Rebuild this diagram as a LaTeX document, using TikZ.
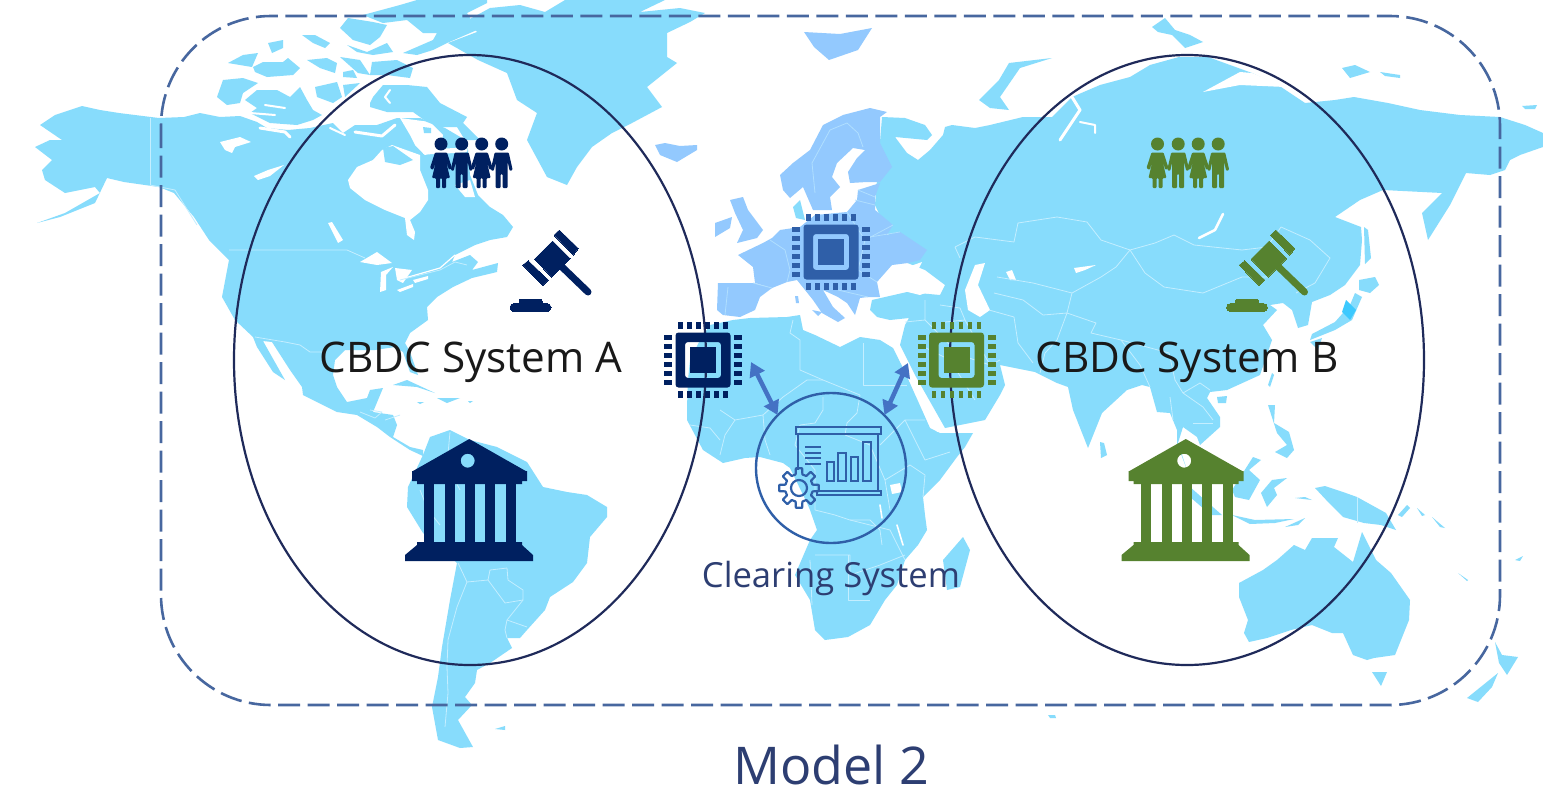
\documentclass[tikz,border=0pt]{standalone}
\usepackage{fontspec}
\setmainfont{Open Sans}
\usetikzlibrary{arrows.meta}
\definecolor{landc}{HTML}{87DCFC}
\definecolor{euroc}{HTML}{93C9FE}
\definecolor{navyc}{HTML}{002060}
\definecolor{greenc}{HTML}{56822F}
\definecolor{chipc}{HTML}{2F5FA8}
\definecolor{ringc}{HTML}{1F2A5A}
\definecolor{dashc}{HTML}{47679F}
\definecolor{arrowc}{HTML}{4472C4}
\definecolor{iconc}{HTML}{2F5FA8}
\definecolor{labelc}{HTML}{2D3E72}
\definecolor{bordc}{HTML}{C4EEFF}
\tikzset{
  land/.style={fill=landc,line join=round},
  euro/.style={fill=euroc,line join=round},
  sea/.style={fill=white,line join=round},
  chan/.style={draw=white,line width=2pt,line cap=round,line join=round},
  bord/.style={draw=bordc,line width=0.8pt,line join=round},
  ebord/.style={draw=bordc!60!euroc,line width=0.8pt,line join=round},
  systemring/.style={draw=ringc,line width=2.2pt},
  chipicon/.pic={
    \fill[pic actions,rounded corners=3pt,even odd rule] (-27.5,-27.5) rectangle (27.5,27.5) (-18,-18) rectangle (18,18);
    \fill[pic actions] (-13,-13) rectangle (13,13);
    \foreach \p in {-22.5,-13.5,-4.5,4.5,13.5,22.5}{
      \fill[pic actions] (\p-2.4,-38) rectangle (\p+2.4,-31);
      \fill[pic actions] (\p-2.4,31) rectangle (\p+2.4,38);
      \fill[pic actions] (-39,\p-2.2) rectangle (-31,\p+2.2);
      \fill[pic actions] (31,\p-2.2) rectangle (39,\p+2.2);
    }
  },
  gavelicon/.pic={
    \fill[pic actions] (554,235)--(559.3,230)--(578.3,248.3)--(573.3,255)--cycle;
    \fill[pic actions] (534.5,259)--(552.5,241)--(570,258.5)--(551.5,277)--cycle;
    \fill[pic actions] (522.7,265)--(528.3,260.7)--(548.3,280)--(542.7,285.7)--cycle;
    \draw[pic actions,line width=7pt,line cap=round] (560,265)--(588,292);
    \fill[pic actions,rounded corners=4pt] (510,303.5) rectangle (551,311.5);
    \fill[pic actions,rounded corners=2pt] (519,299) rectangle (542,306);
  },
  manicon/.pic={
    \fill[pic actions] (0,144) circle (6.5);
    \fill[pic actions,rounded corners=1pt] (-7,152.5)--(7,152.5)--(11,170)--(8,171)--(6,162)--(6,188)--(1,188)--(1,174)--(-1,174)--(-1,188)--(-6,188)--(-6,162)--(-8,171)--(-11,170)--cycle;
  },
  womanicon/.pic={
    \fill[pic actions] (0,144) circle (6.5);
    \fill[pic actions,rounded corners=1pt] (-6,152.5)--(6,152.5)--(11,168)--(8,170)--(5,161)--(9,178)--(5,178)--(5,188)--(1,188)--(1,178)--(-1,178)--(-1,188)--(-5,188)--(-5,178)--(-9,178)--(-5,161)--(-8,170)--(-11,168)--cycle;
  },
  bankicon/.pic={
    \fill[pic actions,even odd rule] (469.3,439)--(525.7,471)--(527,471)--(527,481)--(522,481)--(522,484)--(417,484)--(417,481)--(412,481)--(412,471)--(413,471)--cycle (467.7,460.7) circle (7);
    \foreach \c in {424,445,465,485,506}{
      \fill[pic actions] (\c,483) rectangle (\c+10,543);
    }
    \fill[pic actions] (417,542)--(522,542)--(522,545)--(533,555)--(533,561)--(405,561)--(405,555)--(417,545)--cycle;
  }
}
\begin{document}
\begin{tikzpicture}[x=1pt,y=-1pt]
\useasboundingbox (0,0) rectangle (1543,793);
\fill[white] (0,0) rectangle (1543,793);

% ---------- North America
\fill[land] (40,125)--(55,115)--(82,106)--(100,110)--(119,113)--(159,118)--(184,117)--(200,113)--(220,117)--(240,116)--(257,122)--(267,128)--(288,130)--(310,128)--(333,123)--(343,133)--(355,125)--(377,125)--(397,118)--(420,118)--(445,128)--(462,138)--(468,150)--(470,175)--(478,195)--(490,207)--(503,215)--(513,227)--(507,237)--(490,240)--(475,245)--(455,255)--(452,262)--(470,255)--(478,262)--(472,270)--(498,263)--(497,272)--(472,278)--(453,287)--(437,297)--(427,307)--(428,320)--(410,333)--(405,343)--(410,352)--(418,375)--(410,372)--(403,352)--(395,347)--(375,350)--(345,350)--(335,360)--(333,375)--(337,387)--(347,402)--(367,398)--(370,390)--(383,388)--(373,412)--(393,415)--(397,425)--(393,437)--(410,447)--(423,450)--(423,456)--(410,450)--(390,437)--(377,427)--(357,415)--(337,412)--(303,395)--(302,387)--(290,370)--(272,342)--(263,341)--(285,380)--(273,372)--(257,347)--(253,337)--(235,320)--(222,297)--(229,260)--(209,240)--(194,217)--(174,193)--(159,187)--(124,182)--(107,178)--(95,203)--(60,217)--(37,223)--(65,213)--(100,193)--(95,187)--(65,193)--(45,180)--(42,170)--(52,160)--(35,147)--(50,140)--(62,140)--cycle;
% Hudson Bay and inland waters
\fill[sea] (350,188)--(348,180)--(357,167)--(373,160)--(382,150)--(392,145)--(420,155)--(420,170)--(428,190)--(428,200)--(420,212)--(410,220)--(415,232)--(414,240)--(407,235)--(405,218)--(385,210)--(365,200)--cycle;
\fill[sea] (400,118)--(430,122)--(443,135)--(440,150)--(425,155)--(415,145)--(410,135)--cycle;
\fill[sea] (455,185)--(470,180)--(475,197)--(465,197)--cycle;
\draw[chan,line width=5pt] (425,152)--(465,150);
\fill[land] (383,148)--(393,146)--(413,160)--(400,165)--(385,162)--cycle;
\fill[land] (423,127)--(431,128)--(431,133)--(424,133)--cycle;
\fill[sea] (360,262)--(377,252)--(392,263)--(377,265)--cycle;
\fill[sea] (380,292)--(381,272)--(393,267)--(386,275)--(386,290)--cycle;
\fill[sea] (395,268)--(412,270)--(403,283)--(397,280)--cycle;
\fill[sea] (397,290)--(413,284)--(413,287)--(400,292)--cycle;
\fill[sea] (413,280)--(428,276)--(428,279)--(415,283)--cycle;
\fill[sea] (328,223)--(332,222)--(343,240)--(338,243)--cycle;
\fill[sea] (220,142)--(240,137)--(251,142)--(235,147)--(232,153)--(225,150)--cycle;
\fill[sea] (254,176)--(268,170)--(284,165)--(270,176)--(258,180)--cycle;
\draw[chan,line width=1.2pt] (405,278)--(440,268)--(455,255);
\draw[chan,line width=3pt] (355,132)--(382,136)--(395,125);
\draw[chan,line width=3pt] (260,128)--(285,132)--(290,137);
\draw[chan,line width=2pt] (330,128)--(345,135);
% Caribbean
\fill[land] (393,385)--(407,380)--(435,393)--(417,387)--cycle;
\fill[land] (437,398)--(460,398)--(447,403)--cycle;
\fill[land] (417,402)--(424,402)--(420,404)--cycle;
\fill[land] (468,401)--(473,401)--(470,403)--cycle;
% borders
\draw[bord] (150,118)--(150,185);
\draw[bord] (150,185)--(175,190)--(197,225);
\draw[bord] (229,250)--(347,250)--(365,258);
\draw[bord] (400,280)--(440,270)--(455,262)--(467,265);
\draw[bord] (255,337)--(285,342)--(300,345)--(310,352)--(325,352);
\draw[bord] (370,410)--(382,412)--(375,418)--(360,412);
\draw[bord] (385,420)--(400,415);
% Arctic islands
\fill[land] (217,97)--(223,80)--(243,78)--(258,83)--(243,93)--(240,103)--(227,105)--cycle;
\fill[land] (245,100)--(257,90)--(277,90)--(290,97)--(300,87)--(307,100)--(313,110)--(322,115)--(313,120)--(297,125)--(270,123)--(250,113)--(257,108)--cycle;
\fill[land] (228,63)--(243,55)--(258,53)--(252,67)--(240,65)--cycle;
\fill[land] (253,67)--(263,62)--(283,62)--(288,58)--(300,68)--(293,75)--(267,77)--(255,72)--cycle;
\fill[land] (268,43)--(283,40)--(283,48)--(272,53)--cycle;
\fill[land] (302,35)--(315,35)--(330,43)--(325,48)--(313,43)--cycle;
\fill[land] (307,60)--(327,58)--(337,63)--(335,73)--(320,68)--cycle;
\fill[land] (315,87)--(337,82)--(342,97)--(333,103)--(317,97)--cycle;
\fill[land] (343,85)--(360,83)--(345,97)--cycle;
\fill[land] (340,28)--(348,18)--(373,22)--(387,25)--(380,37)--(370,45)--(353,40)--cycle;
\fill[land] (363,15)--(400,5)--(417,0)--(487,0)--(487,3)--(467,13)--(477,30)--(447,43)--(433,50)--(417,55)--(403,53)--(433,40)--(437,33)--(423,33)--(407,20)--(383,23)--cycle;
\fill[land] (372,62)--(397,60)--(413,68)--(410,78)--(387,75)--(370,75)--cycle;
\fill[land] (340,57)--(360,60)--(370,75)--(358,73)--cycle;
\fill[land] (343,72)--(353,70)--(357,78)--(343,77)--cycle;
\fill[land] (347,45)--(367,52)--(387,43)--(393,52)--(373,55)--(357,52)--cycle;
\fill[land] (370,103)--(373,97)--(383,85)--(407,85)--(427,87)--(440,103)--(467,117)--(463,123)--(480,140)--(465,140)--(457,127)--(440,127)--(427,122)--(413,112)--(387,112)--(370,107)--cycle;
\draw[chan,line width=2pt] (390,90)--(385,97)--(390,103);
\draw[chan,line width=2pt] (275,115)--(250,113);
\draw[chan,line width=2pt] (285,108)--(265,105);
% Greenland
\fill[land] (448,43)--(477,32)--(468,20)--(490,8)--(520,5)--(545,12)--(565,0)--(665,0)--(640,12)--(680,8)--(705,13)--(690,22)--(667,33)--(667,57)--(677,63)--(647,87)--(662,107)--(632,123)--(612,133)--(592,147)--(577,167)--(567,185)--(547,177)--(527,140)--(537,113)--(517,100)--(507,73)--(478,60)--cycle;
% Iceland, Svalbard
\fill[euro] (655,145)--(665,143)--(680,146)--(697,145)--(697,150)--(677,162)--(660,155)--cycle;
\fill[euro] (804,32)--(840,34)--(872,28)--(858,50)--(829,60)--(814,47)--cycle;

% ---------- South America
\fill[land] (423,455)--(430,437)--(450,430)--(470,440)--(497,447)--(527,462)--(543,487)--(567,492)--(587,495)--(607,507)--(607,517)--(590,537)--(587,563)--(573,582)--(550,597)--(545,610)--(527,630)--(520,638)--(507,638)--(512,648)--(490,663)--(477,670)--(475,683)--(465,697)--(472,705)--(458,720)--(473,747)--(460,748)--(438,740)--(432,707)--(438,677)--(442,647)--(450,600)--(457,563)--(423,533)--(407,507)--(408,487)--cycle;
\draw[bord] (458,563)--(467,582)--(488,580)--(490,570)--(507,568);
\draw[bord] (488,580)--(505,603)--(523,600)--(523,590)--(508,580)--(507,568);
\draw[bord] (467,582)--(457,607)--(448,640)--(447,667)--(448,693)--(445,727);
\draw[bord] (505,630)--(507,620)--(523,600);
\draw[bord] (507,620)--(527,627);
\draw[bord] (505,630)--(507,638);
\draw[bord] (420,490)--(428,510)--(440,525);
\draw[bord] (450,432)--(447,465)--(460,490);
\fill[land] (495,729)--(505,726)--(505,730)--cycle;

% ---------- Africa
\fill[land] (710,325)--(733,320)--(750,318)--(787,317)--(800,315)--(803,330)--(815,335)--(840,347)--(860,337)--(880,340)--(893,348)--(905,372)--(930,428)--(940,433)--(973,433)--(965,447)--(957,457)--(940,480)--(923,497)--(925,515)--(927,530)--(918,545)--(905,560)--(897,585)--(885,600)--(870,625)--(848,637)--(825,640)--(815,630)--(810,600)--(795,575)--(810,540)--(817,530)--(810,510)--(807,503)--(790,468)--(783,463)--(760,457)--(745,458)--(723,463)--(703,450)--(687,420)--(687,407)--(688,380)--(690,360)--(700,340)--cycle;
\fill[land] (963,537)--(970,550)--(960,587)--(947,590)--(943,560)--cycle;
\fill[sea] (890,485)--(900,483)--(902,492)--(892,494)--cycle;
\draw[chan,line width=1.6pt] (880,505)--(882,518);
\draw[chan,line width=1.6pt] (897,525)--(903,545);
\draw[bord] (793,320)--(790,333)--(800,340)--(800,370)--(823,380)--(860,395);
\draw[bord] (863,343)--(863,385)--(907,385);
\draw[bord] (823,380)--(807,380)--(783,397)--(763,415)--(735,420);
\draw[bord] (860,395)--(857,413)--(847,423)--(845,435);
\draw[bord] (823,397)--(823,410)--(815,423)--(800,425);
\draw[bord] (735,420)--(725,435)--(720,455);
\draw[bord] (763,415)--(765,440)--(770,455);
\draw[bord] (720,410)--(735,420);
\draw[bord] (690,425)--(710,428)--(720,440);
\draw[bord] (845,435)--(870,445)--(885,480)--(890,510);
\draw[bord] (880,445)--(905,420)--(925,420);
\draw[bord] (905,420)--(925,460)--(950,452);
\draw[bord] (885,480)--(910,465)--(925,475)--(923,497);
\draw[bord] (800,425)--(795,445)--(815,470)--(815,510);
\draw[bord] (815,510)--(835,515)--(850,520)--(870,520)--(880,530)--(882,545);
\draw[bord] (815,555)--(850,555)--(850,575)--(880,565)--(905,555);
\draw[bord] (848,555)--(848,600)--(870,600);
\draw[bord] (810,560)--(812,605);
\draw[bord] (850,520)--(890,530)--(905,560);

% ---------- Eurasia
\fill[land] (882,117)--(905,118)--(925,125)--(932,135)--(927,140)--(895,137)--(907,153)--(918,160)--(930,150)--(943,135)--(945,127)--(952,125)--(975,128)--(990,125)--(1023,117)--(1052,117)--(1072,97)--(1100,85)--(1130,77)--(1150,65)--(1179,57)--(1208,57)--(1230,65)--(1252,73)--(1281,87)--(1305,103)--(1335,100)--(1354,97)--(1388,103)--(1420,110)--(1460,115)--(1500,117)--(1525,125)--(1543,133)--(1543,147)--(1520,155)--(1510,160)--(1505,170)--(1490,175)--(1466,173)--(1450,205)--(1428,240)--(1422,213)--(1442,193)--(1383,190)--(1360,200)--(1335,217)--(1361,227)--(1362,240)--(1360,265)--(1345,285)--(1330,295)--(1312,302)--(1308,325)--(1298,328)--(1292,310)--(1283,303)--(1270,305)--(1277,310)--(1263,325)--(1272,340)--(1260,375)--(1227,390)--(1210,392)--(1207,398)--(1220,417)--(1220,427)--(1200,445)--(1197,437)--(1183,427)--(1178,443)--(1187,470)--(1177,443)--(1177,430)--(1170,413)--(1157,412)--(1150,387)--(1142,385)--(1127,390)--(1102,413)--(1098,423)--(1088,448)--(1073,410)--(1068,387)--(1057,383)--(1035,372)--(1000,365)--(1005,385)--(1000,395)--(985,420)--(945,428)--(915,375)--(900,345)--(905,325)--(909,318)--(890,320)--(877,317)--(870,310)--(872,300)--(907,292)--(940,295)--(945,285)--(925,270)--(900,260)--(875,205)--cycle;
\fill[sea] (1203,92)--(1240,72)--(1252,73)--(1285,87)--(1240,85)--cycle;
\draw[chan,line width=3pt] (1072,97)--(1080,110)--(1060,140);
\draw[chan,line width=2pt] (1080,122)--(1095,125)--(1095,133);
% Seas and lakes in Asia
\fill[sea] (873,283)--(888,265)--(900,275)--(917,277)--(933,290)--(920,295)--(900,290)--(880,295)--cycle;
\fill[sea] (905,268)--(922,262)--(917,272)--(908,272)--cycle;
\fill[sea] (975,265)--(985,263)--(978,285)--(990,310)--(980,317)--(968,310)--(965,290)--cycle;
\draw[chan,line width=2.5pt] (1223,214)--(1215,230)--(1199,238);
\fill[sea] (1074,268)--(1096,265)--(1085,270)--(1076,273)--cycle;
\fill[sea] (1006,272)--(1012,270)--(1016,280)--(1010,280)--cycle;
\draw[chan,line width=4pt] (905,366)--(918,395)--(938,430);
\draw[chan,line width=3pt] (896,348)--(902,362);
\draw[bord] (955,247)--(975,237)--(1014,242)--(1018,223)--(1057,217)--(1087,222)--(1101,240)--(1130,250)--(1155,243)--(1174,235)--(1194,245)--(1242,250)--(1267,247)--(1281,227)--(1310,240)--(1330,258)--(1315,283)--(1296,293);
\draw[bord] (1130,250)--(1145,273)--(1164,287)--(1203,293)--(1242,277)--(1267,277)--(1276,263)--(1267,247);
\draw[bord] (1130,250)--(1116,267)--(1101,277)--(1072,293)--(1067,313);
\draw[bord] (955,247)--(960,258);
\draw[bord] (997,277)--(1033,283)--(1072,293);
\draw[bord] (994,293)--(1023,300)--(1043,315)--(1067,313);
\draw[bord] (989,310)--(1014,317)--(1018,343)--(1033,363);
\draw[bord] (1067,313)--(1057,340)--(1045,353)--(1040,373);
\draw[bord] (1067,313)--(1096,323)--(1091,333)--(1121,340)--(1169,353)--(1175,380);
\draw[bord] (1121,340)--(1140,365)--(1150,387);
\draw[bord] (1170,397)--(1173,420);
\draw[bord] (1175,380)--(1183,393)--(1200,383)--(1210,390);
\draw[bord] (1183,393)--(1203,407)--(1213,420);
\draw[bord] (1193,423)--(1213,423);
\draw[bord] (940,305)--(960,308)--(965,320)--(945,322);
\draw[bord] (925,300)--(925,320)--(905,322);
\draw[bord] (925,320)--(960,355)--(990,365);
\draw[bord] (965,320)--(990,365)--(1000,360);
\draw[bord] (920,345)--(950,360)--(975,400);
\fill[land] (1217,397)--(1227,396)--(1226,403)--(1218,403)--cycle;
\fill[land] (1272,373)--(1274,375)--(1270,387)--(1268,385)--cycle;

% Sakhalin, Japan, islands of the north
\fill[land] (1364,227)--(1368,230)--(1371,258)--(1365,264)--cycle;
\fill[land] (1359,280)--(1375,277)--(1379,285)--(1370,293)--(1359,290)--cycle;
\fill[land] (1355,293)--(1362,297)--(1352,320)--(1335,330)--(1310,340)--(1312,334)--(1335,322)--(1350,305)--cycle;
\fill[land] (1310,342)--(1322,338)--(1318,350)--cycle;
\fill[fill=landc!75!blue!60!cyan] (1346,300)--(1356,310)--(1350,320)--(1342,312)--cycle;
\fill[land] (979,100)--(999,80)--(1009,63)--(1052,58)--(1020,68)--(1000,97)--(1009,110)--(990,108)--cycle;
\fill[land] (1152,27)--(1165,18)--(1175,30)--(1190,35)--(1203,42)--(1185,48)--(1172,35)--(1158,32)--cycle;
\fill[land] (1342,68)--(1355,65)--(1370,72)--(1350,78)--cycle;
\fill[land] (1380,72)--(1400,75)--(1400,78)--(1385,76)--cycle;
\fill[land] (1522,106)--(1537,105)--(1535,109)--(1525,109)--cycle;
\fill[land] (1100,442)--(1104,443)--(1107,455)--(1101,458)--cycle;

% ---------- Europe
\fill[euro] (780,175)--(793,163)--(810,150)--(823,125)--(843,115)--(870,108)--(887,112)--(880,117)--(880,143)--(892,167)--(880,182)--(867,182)--(850,183)--(848,172)--(857,158)--(865,150)--(853,148)--(837,163)--(832,177)--(840,187)--(830,197)--(832,210)--(813,210)--(803,187)--(790,198)--(783,190)--cycle;
\fill[land] (793,207)--(800,200)--(805,220)--(796,218)--cycle;
\fill[euro] (858,190)--(880,183)--(875,197)--(875,210)--(893,225)--(887,235)--(900,232)--(927,250)--(920,260)--(908,263)--(892,265)--(877,282)--(880,297)--(868,297)--(860,298)--(855,315)--(847,303)--(838,297)--(823,290)--(833,307)--(845,318)--(838,322)--(822,313)--(813,300)--(797,280)--(787,282)--(772,288)--(755,283)--(753,267)--(738,255)--(763,243)--(772,238)--(780,230)--(800,227)--(815,215)--(847,212)--(857,200)--cycle;
\fill[euro] (730,200)--(743,197)--(748,210)--(763,230)--(757,238)--(737,243)--(743,230)--(735,213)--cycle;
\fill[euro] (715,223)--(732,217)--(730,228)--(715,237)--cycle;
\fill[euro] (718,283)--(753,283)--(772,288)--(760,297)--(755,310)--(740,317)--(723,315)--(717,310)--cycle;
\fill[euro] (795,296)--(798,296)--(799,303)--(796,303)--cycle;
\fill[euro] (812,310)--(822,312)--(818,316)--cycle;
\draw[ebord] (728,287)--(725,315);
\draw[ebord] (753,283)--(772,288);
\draw[ebord] (770,240)--(785,250)--(790,270)--(787,282);
\draw[ebord] (847,212)--(865,240)--(893,225);
\draw[ebord] (870,237)--(900,232);
\draw[ebord] (865,240)--(858,270)--(838,275)--(805,275);
\draw[ebord] (858,270)--(877,282);
\draw[ebord] (815,193)--(812,163)--(830,130)--(847,123)--(858,133)--(863,147);
\draw[ebord] (838,290)--(868,297);
\draw[ebord] (858,190)--(875,197);
\draw[ebord] (855,200)--(875,205);

% ---------- Oceania
\fill[land] (1239,583)--(1263,570)--(1277,560)--(1294,545)--(1305,550)--(1312,538)--(1338,538)--(1334,547)--(1353,562)--(1362,532)--(1376,560)--(1391,573)--(1410,600)--(1409,620)--(1395,655)--(1374,658)--(1367,660)--(1353,655)--(1343,633)--(1332,633)--(1312,625)--(1291,630)--(1267,638)--(1249,642)--(1244,633)--(1248,620)--(1239,597)--cycle;
\fill[land] (1372,672)--(1387,672)--(1381,686)--cycle;
\fill[land] (1467,698)--(1498,673)--(1492,687)--(1478,702)--cycle;
\fill[land] (1495,642)--(1502,655)--(1518,657)--(1507,675)--(1499,663)--cycle;
\fill[land] (1315,488)--(1325,486)--(1343,492)--(1357,497)--(1386,513)--(1396,530)--(1381,525)--(1364,523)--(1343,517)--(1329,503)--cycle;
\draw[bord] (1357,497)--(1357,523);
\fill[land] (1235,497)--(1232,490)--(1253,457)--(1261,460)--(1249,470)--(1260,480)--(1249,500)--cycle;
\fill[land] (1261,493)--(1272,480)--(1287,478)--(1274,488)--(1277,495)--(1267,507)--cycle;
\fill[land] (1268,405)--(1275,405)--(1274,423)--(1289,432)--(1294,450)--(1287,458)--(1275,452)--(1287,445)--(1277,433)--cycle;
\fill[land] (1190,487)--(1222,515)--(1211,515)--(1190,497)--cycle;
\fill[land] (1232,515)--(1255,520)--(1294,519)--(1275,523)--(1250,524)--cycle;
\fill[land] (1298,525)--(1305,518)--(1285,527)--cycle;
\fill[land] (1295,498)--(1305,497)--(1312,500)--cycle;
\fill[land] (1398,515)--(1407,505)--(1410,508)--(1402,517)--cycle;
\fill[land] (1417,508)--(1425,515)--(1422,516)--cycle;
\fill[land] (1432,517)--(1445,528)--(1440,527)--cycle;
\fill[land] (1458,573)--(1468,580)--(1467,581)--cycle;
\fill[land] (1515,560)--(1523,556)--(1520,561)--cycle;
\fill[land] (1048,715)--(1055,715)--(1056,718)--(1050,718)--cycle;

% ---------- Rings
\draw[draw=dashc,line width=2.6pt,dash pattern=on 22pt off 7.5pt,rounded corners=110pt] (161,16) rectangle (1500,705);
\draw[systemring] (470,360) ellipse [x radius=236,y radius=305];
\draw[systemring] (1187,360) ellipse [x radius=237,y radius=305];

% ---------- System A icons
\pic[fill=navyc,draw=navyc,line width=0pt] at (0,0) {gavelicon};
\pic[fill=navyc] at (0,0) {bankicon};
\pic[fill=navyc] at (441,0) {womanicon};
\pic[fill=navyc] at (461.7,0) {manicon};
\pic[fill=navyc] at (481.7,0) {womanicon};
\pic[fill=navyc] at (501.7,0) {manicon};
\pic[fill=navyc] at (703,360) {chipicon};
% ---------- System B icons
\pic[fill=greenc,draw=greenc,line width=0pt] at (716.5,0) {gavelicon};
\pic[fill=greenc] at (716.5,0) {bankicon};
\pic[fill=greenc] at (1157.5,0) {womanicon};
\pic[fill=greenc] at (1178.2,0) {manicon};
\pic[fill=greenc] at (1198.2,0) {womanicon};
\pic[fill=greenc] at (1218.2,0) {manicon};
\pic[fill=greenc] at (956.5,360) {chipicon};
% ---------- Europe chip
\pic[fill=chipc] at (831,252) {chipicon};

% ---------- Clearing system
\node[circle,draw=iconc,line width=2.4pt,minimum size=150pt,inner sep=0pt] (clearing) at (831,468) {};
\begin{scope}[draw=iconc,line width=2.2pt]
\draw (796,427) rectangle (881,434);
\draw (798,434)--(798,470);
\draw (878,434)--(878,491);
\draw (817,491) rectangle (881,495);
\draw (805,447)--(821,447) (805,453)--(821,453) (805,458)--(821,458) (805,464)--(821,464);
\draw (827,462) rectangle (834,481);
\draw (838,453) rectangle (846,481);
\draw (851,457) rectangle (858,481);
\draw (863,442) rectangle (871,481);
\draw[line join=round] ([shift={(-14:14)}]799,488)
  \foreach \a in {0,45,...,315}{ -- ([shift={(\a-14:14)}]799,488) -- ([shift={(\a-9:20)}]799,488) -- ([shift={(\a+9:20)}]799,488) -- ([shift={(\a+14:14)}]799,488) } -- cycle;
\draw (799,488) circle (8);
\end{scope}
\coordinate (portA) at (751,362);
\coordinate (portB) at (908,363);
\draw[draw=arrowc,line width=4.5pt,{Triangle[width=16pt,length=14pt]}-{Triangle[width=16pt,length=14pt]},shorten >=-1pt] (portA) -- (clearing.135);
\draw[draw=arrowc,line width=4.5pt,{Triangle[width=16pt,length=14pt]}-{Triangle[width=16pt,length=14pt]},shorten >=-1pt] (portB) -- (clearing.45);

% ---------- Labels
\node[text=black!90,font=\fontsize{42.2}{48}\selectfont,inner sep=0pt] (labelA) at (471,362) {CBDC System A};
\node[text=black!90,font=\fontsize{42.2}{48}\selectfont,inner sep=0pt] (labelB) at (1187,362) {CBDC System B};
\node[text=labelc,font=\fontsize{34.6}{40}\selectfont,inner sep=0pt] (labelC) at (831,579) {Clearing System};
\node[text=labelc,font=\fontsize{52}{58}\selectfont,inner sep=0pt] (labelM) at (831,765) {Model 2};
\end{tikzpicture}
\end{document}
